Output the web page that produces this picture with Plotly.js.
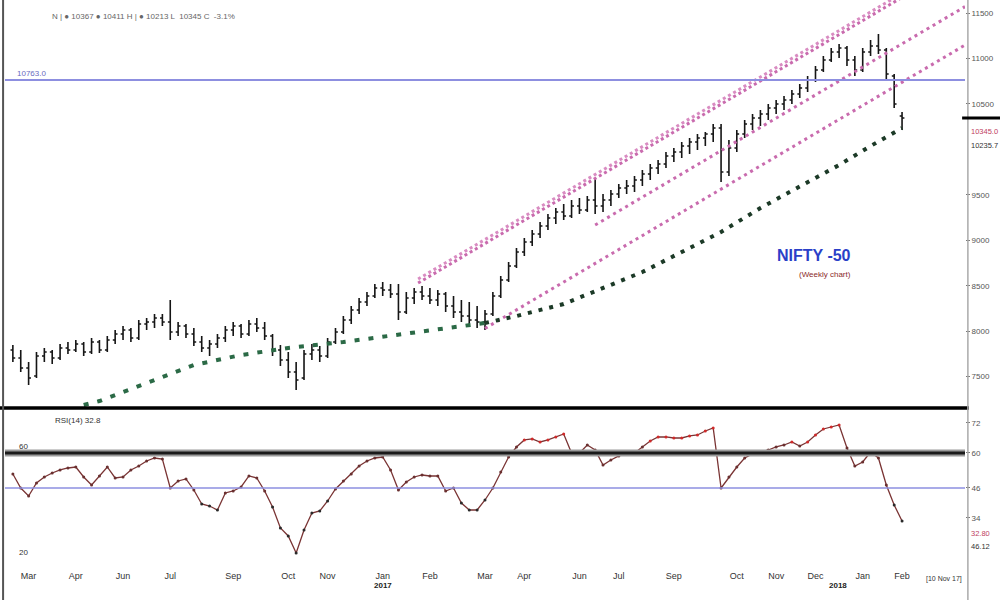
<!DOCTYPE html>
<html>
<head>
<meta charset="utf-8">
<script src="https://cdn.plot.ly/plotly-3.0.1.min.js"></script>
<style>html,body{margin:0;padding:0;background:#fff}#chart{width:1000px;height:600px}</style>
</head>
<body>
<div id="chart"></div>
<script>
// ---- weekly price bars (NIFTY-50) ----
const open = [7793,7705,7595,7507,7727,7771,7705,7815,7793,7859,7771,7881,7793,7903,7969,8013,7925,8079,8101,8145,
8101,7991,8057,7969,7881,7815,7859,7925,8013,8057,7969,8079,8035,7947,7793,7683,7551,7485,7749,7793,
7727,7881,7991,8123,8233,8321,8387,8475,8453,8409,8211,8365,8431,8387,8343,8409,8277,8211,8167,8123,
8101,8189,8387,8563,8717,8871,8981,9069,9157,9245,9311,9267,9377,9333,9443,9377,9443,9509,9575,9597,
9663,9729,9795,9839,9927,9971,10037,10081,10125,10169,10235,9751,10015,10169,10279,10345,10389,10455,10499,10543,
10609,10675,10763,10873,10983,11071,11115,10983,10873,11071,11137,11093,10807,10367];
const high = [7848,7793,7661,7771,7815,7793,7859,7881,7903,7881,7925,7903,7947,8013,8057,8035,8123,8145,8189,8189,
8343,8101,8079,8035,7947,7903,7969,8057,8101,8079,8123,8145,8101,7969,7848,7771,7661,7793,7859,7837,
7925,8035,8167,8277,8365,8431,8519,8541,8519,8519,8431,8475,8497,8475,8453,8431,8387,8343,8321,8277,
8233,8431,8607,8761,8915,9025,9113,9201,9289,9355,9399,9443,9465,9487,9685,9509,9553,9619,9663,9707,
9773,9839,9883,9971,10015,10081,10125,10169,10191,10279,10279,10103,10213,10323,10389,10433,10499,10543,10587,10653,
10719,10807,10917,11027,11115,11159,11137,11027,11115,11203,11269,11115,10829,10411];
const low = [7661,7551,7408,7485,7661,7639,7683,7749,7771,7727,7749,7760,7771,7859,7903,7881,7903,8013,8035,8057,
7903,7947,7925,7837,7771,7727,7815,7881,7947,7925,7947,7991,7903,7727,7617,7485,7353,7463,7683,7661,
7705,7859,7969,8079,8189,8277,8365,8387,8365,8123,8189,8299,8343,8299,8277,8211,8145,8101,8057,8035,
8013,8167,8365,8541,8695,8827,8937,9025,9113,9179,9223,9245,9289,9311,9289,9311,9377,9465,9509,9531,
9597,9663,9729,9795,9861,9905,9949,9993,10037,10081,9641,9707,9971,10125,10213,10257,10323,10389,10433,10499,
10565,10631,10741,10851,10961,11005,10917,10807,10851,11027,11049,10763,10455,10213];
const close = [7705,7595,7485,7727,7771,7705,7815,7793,7859,7771,7881,7793,7903,7969,8013,7925,8079,8101,8145,8101,
7991,8057,7969,7881,7815,7859,7925,8013,8057,7969,8079,8035,7947,7793,7683,7551,7463,7749,7793,7727,
7881,7991,8123,8233,8321,8387,8475,8453,8409,8211,8365,8431,8387,8343,8409,8277,8211,8167,8123,8101,
8189,8387,8563,8717,8871,8981,9069,9157,9245,9311,9267,9377,9333,9443,9377,9443,9509,9575,9597,9663,
9729,9795,9839,9927,9971,10037,10081,10125,10169,10235,9751,10015,10169,10279,10345,10389,10455,10499,10543,10609,
10675,10763,10873,10983,11071,11115,10983,10873,11071,11137,11093,10829,10499,10345];

// ---- RSI (14) per week ----
const rsi = [51.6,46.0,42.8,48.0,50.4,52.0,53.2,54.0,54.4,50.4,
47.2,50.8,54.4,50.0,50.4,53.2,54.8,56.8,58.0,57.6,
46.0,48.8,49.6,45.2,39.6,38.8,37.2,44.0,44.8,46.4,
50.8,50.0,44.8,38.4,30.0,26.8,20.0,29.2,36.0,36.8,
40.8,45.6,48.8,51.6,54.8,56.8,58.0,58.4,53.2,45.2,
48.4,50.4,51.2,50.8,50.8,44.8,46.0,40.0,37.2,37.2,
41.2,46.0,52.4,58.4,62.4,65.2,65.6,64.4,65.2,66.4,
67.6,60.0,60.0,63.2,61.2,55.2,57.2,58.8,59.6,60.0,
62.4,64.8,66.4,66.4,66.0,66.0,66.8,67.2,68.8,70.0,
46.0,50.4,54.4,58.0,59.6,60.4,61.2,62.4,63.2,64.4,
62.8,64.4,67.2,69.6,70.4,71.2,62.0,54.8,56.4,60.4,
58.0,47.2,39.2,32.8];

// ---- axis labels ----
const tickIdx = [2,8,14,20,28,35,40,47,53,60,65,72,77,84,92,97,102,108,113];
const tickLabels = ["Mar","Apr","Jun","Jul","Sep","Oct","Nov","Jan","Feb","Mar","Apr","Jun","Jul","Sep","Oct","Nov","Dec","Jan","Feb"];
const yearIdx = [47, 104.8];
const yearLabels = ["2017","2018"];
const priceTicks = [7500, 8000, 8500, 9000, 9500, 10500, 11000, 11500];

// ---- drawn studies (week index, price) ----
const channelTopX = [51.5, 113];
const channelTopY = [8530, 11672];
const channelTop2Y = [8574, 11716];
const channelMidX = [74, 121];
const channelMidY = [9168, 11570];
const channelLowX = [60, 121];
const channelLowY = [8030, 11147];
const curveLeftX = [9, 11, 14, 17, 20, 23, 29, 35, 42, 48, 54, 60];
const curveLeftY = [7188, 7232, 7331, 7430, 7529, 7628, 7738, 7815, 7881, 7947, 8013, 8090];
const curveRightX = [60, 64, 70, 75, 80, 85, 90, 95, 100, 105, 109, 113];
const curveRightY = [8090, 8167, 8299, 8475, 8651, 8871, 9091, 9355, 9597, 9828, 10037, 10235];
const resistance = 10763;
const rsiUpper = 60;
const rsiLower = 46;
const rsiTicks = [72, 60, 46, 34];

const weeks = close.map((_, i) => i);
const last = close.length - 1;
const pink = '#c96bae';

const traces = [
  {type:'scatter', mode:'lines', x:channelTopX, y:channelTopY, line:{color:pink, width:3, dash:'3px,3px'}, hoverinfo:'skip'},
  {type:'scatter', mode:'lines', x:channelTopX, y:channelTop2Y, line:{color:'#d98cc2', width:3, dash:'3px,3px'}, hoverinfo:'skip'},
  {type:'scatter', mode:'lines', x:channelMidX, y:channelMidY, line:{color:pink, width:3, dash:'3px,4px'}, hoverinfo:'skip'},
  {type:'scatter', mode:'lines', x:channelLowX, y:channelLowY, line:{color:pink, width:3, dash:'3px,4px'}, hoverinfo:'skip'},
  {type:'scatter', mode:'lines', x:curveLeftX, y:curveLeftY, line:{color:'#2b6a46', width:4, dash:'5px,9px'}, hoverinfo:'skip'},
  {type:'scatter', mode:'lines', x:curveRightX, y:curveRightY, line:{color:'#1c3a27', width:4, dash:'4px,7px'}, hoverinfo:'skip'},
  {type:'ohlc', x:weeks, open:open, high:high, low:low, close:close,
   increasing:{line:{color:'#151515', width:1.6}}, decreasing:{line:{color:'#151515', width:1.6}},
   tickwidth:0.3, hoverinfo:'skip'},
  {type:'scatter', mode:'lines+markers', x:weeks, y:rsi, xaxis:'x', yaxis:'y2',
   line:{color:'#7a3434', width:1.3},
   marker:{size:3, color:rsi.map(v => v >= 64 ? '#d02a2a' : (v <= 42 ? '#2a2a2a' : '#6a3030'))},
   hoverinfo:'skip'}
];

const F = 'Liberation Sans, Arial, sans-serif';
const layout = {
  width:1000, height:600,
  margin:{l:5, r:35, t:0, b:40},
  paper_bgcolor:'#fff', plot_bgcolor:'#fff',
  showlegend:false,
  font:{family:F, color:'#333', size:8},
  xaxis:{anchor:'y2', range:[-1, 121], showgrid:false, zeroline:false, showline:false,
    tickmode:'array', tickvals:tickIdx, ticktext:tickLabels, ticks:'', ticklabelstandoff:9,
    tickfont:{size:9, color:'#333', family:F}, rangeslider:{visible:false}},
  yaxis:{domain:[0.2714, 1], range:[7155, 11643], side:'right', showgrid:false, zeroline:false,
    tickmode:'array', tickvals:priceTicks, tickformat:'d', ticks:'outside', ticklen:4, tickcolor:'#777',
    tickfont:{size:8, color:'#555', family:F}},
  yaxis2:{domain:[0, 0.2679], range:[17.2, 77.2], side:'right', showgrid:false, zeroline:false,
    tickmode:'array', tickvals:rsiTicks, ticks:'outside', ticklen:4, tickcolor:'#777',
    tickfont:{size:8, color:'#555', family:F}},
  shapes:[
    {type:'line', xref:'paper', yref:'y', x0:0, x1:1, y0:resistance, y1:resistance, line:{color:'#8d8fe0', width:2}},
    {type:'line', xref:'paper', yref:'paper', x0:-0.006, x1:1.004, y0:0.2714, y1:0.2714, line:{color:'#000', width:3.5}},
    {type:'line', xref:'paper', yref:'y2', x0:0, x1:1, y0:rsiUpper, y1:rsiUpper, line:{color:'#9a9a9a', width:7}},
    {type:'line', xref:'paper', yref:'y2', x0:0, x1:1, y0:rsiUpper, y1:rsiUpper, line:{color:'#1a1a1a', width:3}},
    {type:'line', xref:'paper', yref:'y2', x0:0, x1:1, y0:rsiLower, y1:rsiLower, line:{color:'#8d8fe0', width:1.5}},
    {type:'line', xref:'paper', yref:'paper', x0:-0.002, x1:-0.002, y0:-0.075, y1:1, line:{color:'#555', width:2}},
    {type:'line', xref:'paper', yref:'paper', x0:1.003, x1:1.003, y0:-0.075, y1:1, line:{color:'#aaa', width:1.5}},
    {type:'line', xref:'paper', yref:'y', x0:0.997, x1:1.037, y0:close[last], y1:close[last], line:{color:'#000', width:3}}
  ],
  annotations:[
    {xref:'paper', yref:'paper', x:0.047, y:0.982, xanchor:'left', showarrow:false,
     text:'N | ● 10367 ● 10411 H | ● 10213 L  10345 C  -3.1%', font:{size:8, color:'#666', family:F}},
    {xref:'paper', yref:'y', x:0.01, y:resistance, yshift:7, xanchor:'left', showarrow:false,
     text:'10763.0', font:{size:8, color:'#6a6ac0', family:F}},
    {xref:'paper', yref:'paper', x:0.883, y:0.5446, showarrow:false,
     text:'<b>NIFTY -50</b>', font:{size:16, color:'#2a3fc8', family:F}},
    {xref:'paper', yref:'paper', x:0.883, y:0.509, showarrow:false,
     text:'(Weekly chart)', font:{size:8, color:'#8b2a2a', family:F}},
    {xref:'paper', yref:'paper', x:1.004, y:0.777, xanchor:'left', showarrow:false,
     text:'10345.0', font:{size:7.5, color:'#c04060', family:F}},
    {xref:'paper', yref:'paper', x:1.004, y:0.752, xanchor:'left', showarrow:false,
     text:'10235.7', font:{size:7.5, color:'#333', family:F}},
    {xref:'paper', yref:'y2', x:0.05, y:73, xanchor:'left', showarrow:false,
     text:'RSI(14) 32.8', font:{size:8, color:'#333', family:F}},
    {xref:'paper', yref:'y2', x:0.012, y:rsiUpper, yshift:6, xanchor:'left', showarrow:false,
     text:'60', font:{size:8, color:'#333', family:F}},
    {xref:'paper', yref:'y2', x:0.012, y:20, xanchor:'left', showarrow:false,
     text:'20', font:{size:8, color:'#333', family:F}},
    {xref:'paper', yref:'paper', x:1.004, y:0.035, xanchor:'left', showarrow:false,
     text:'32.80', font:{size:7.5, color:'#c04060', family:F}},
    {xref:'paper', yref:'paper', x:1.004, y:0.012, xanchor:'left', showarrow:false,
     text:'46.12', font:{size:7.5, color:'#333', family:F}},
    {xref:'x', yref:'paper', x:yearIdx[0], y:-0.058, showarrow:false,
     text:'<b>'+yearLabels[0]+'</b>', font:{size:8, color:'#222', family:F}},
    {xref:'x', yref:'paper', x:yearIdx[1], y:-0.058, showarrow:false,
     text:'<b>'+yearLabels[1]+'</b>', font:{size:8, color:'#222', family:F}},
    {xref:'paper', yref:'paper', x:0.957, y:-0.045, xanchor:'left', showarrow:false,
     text:'[10 Nov 17]', font:{size:7, color:'#333', family:F}}
  ]
};

Plotly.newPlot('chart', traces, layout, {staticPlot:true, displayModeBar:false});
</script>
</body>
</html>
